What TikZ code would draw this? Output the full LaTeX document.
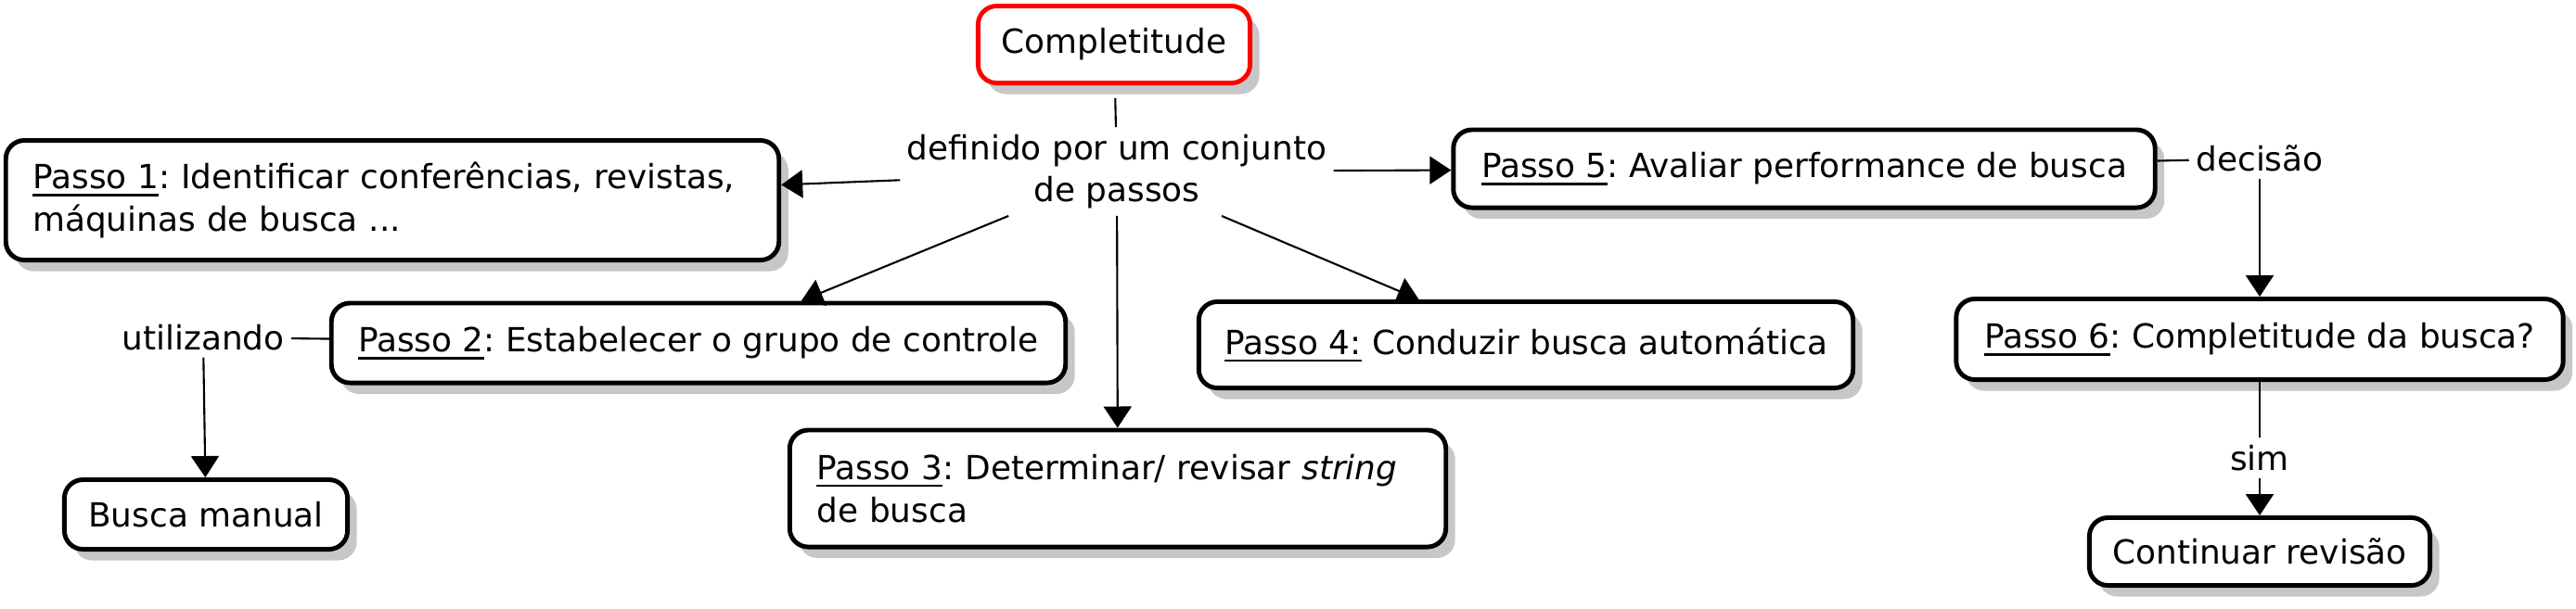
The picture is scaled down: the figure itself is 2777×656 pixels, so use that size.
\documentclass[tikz,border=0pt]{standalone}
\usepackage{fontspec}
\setmainfont{DejaVu Sans}
\usetikzlibrary{arrows.meta,shadows}
\frenchspacing
\newcommand{\passo}[1]{\setbox0\hbox{#1}\rlap{\rule[-2.2pt]{\wd0}{0.7pt}}\box0\relax}

\begin{document}
\begin{tikzpicture}[x=0.01cm,y=-0.01cm]
	\tikzset{Conceito/.style = {draw, line width=1.4pt, rounded corners=2mm, fill=white,
			drop shadow={shadow xshift=1mm, shadow yshift=-1.2mm, fill=black!22, opacity=1},
			font=\fontsize{10.2}{13}\selectfont, inner sep=1.5mm, align=center}}
	\tikzset{Ligacao/.style = {font=\fontsize{10.2}{13}\selectfont, inner sep=0.7mm, align=center}}
	\tikzset{Seta/.style = {-{Triangle[length=2.3mm, width=3mm]}, line width=0.6pt}}
	\tikzset{Linha/.style = {line width=0.6pt}}
	\useasboundingbox (0,0) rectangle (2777,656);
	
	% Conceitos
	\node[Conceito, draw=red, minimum width=2.93cm, minimum height=0.83cm] (comp) at (1201,48) {Completitude};
	\node[Conceito, minimum height=1.29cm, text width=7.75cm, inner xsep=2.9mm, align=left] (p1) at (423,216)
		{\passo{Passo 1}: Identificar conferências, revistas,\\ máquinas de busca ...};
	\node[Conceito, minimum width=7.91cm, minimum height=0.86cm] (p2) at (753,370) {\passo{Passo 2}: Estabelecer o grupo de controle};
	\node[Conceito, minimum width=3.05cm, minimum height=0.75cm] (manual) at (222,555) {Busca manual};
	\node[Conceito, minimum height=1.26cm, text width=6.49cm, inner xsep=2.9mm, align=left] (p3) at (1205,527)
		{\passo{Passo 3}: Determinar/ revisar \textit{string}\\ de busca};
	\node[Conceito, minimum width=7.05cm, minimum height=0.93cm] (p4) at (1645,372) {\passo{Passo 4:} Conduzir busca automática};
	\node[Conceito, minimum width=7.56cm, minimum height=0.84cm] (p5) at (1945,182) {\passo{Passo 5}: Avaliar performance de busca};
	\node[Conceito, minimum width=6.54cm, minimum height=0.87cm] (p6) at (2436,366) {\passo{Passo 6}: Completitude da busca?};
	\node[Conceito, minimum width=3.67cm, minimum height=0.73cm] (cont) at (2436,595) {Continuar revisão};
	
	% Frases de ligação
	\node[Ligacao] (def) at (1204,185) {definido por um conjunto\\ de passos};
	\node[Ligacao] (util) at (219,364) {utilizando};
	\node[Ligacao] (dec) at (2436,171) {decisão};
	\node[Ligacao] (sim) at (2436,494) {sim};
	
	% Ligações
	\draw[Linha, shorten <=1.4mm] (comp) -- (def);
	\draw[Seta] (def) -- (p1);
	\draw[Seta] (def) -- (p2);
	\draw[Seta] (def) -- (p3);
	\draw[Seta] (def) -- (p4);
	\draw[Seta] (def) -- (p5);
	\draw[Linha] (p2) -- (util);
	\draw[Seta] (util) -- (manual);
	\draw[Linha] (p5) -- (dec);
	\draw[Seta] (dec) -- (p6);
	\draw[Linha] (p6) -- (sim);
	\draw[Seta] (sim) -- (cont);
\end{tikzpicture}
\end{document}
